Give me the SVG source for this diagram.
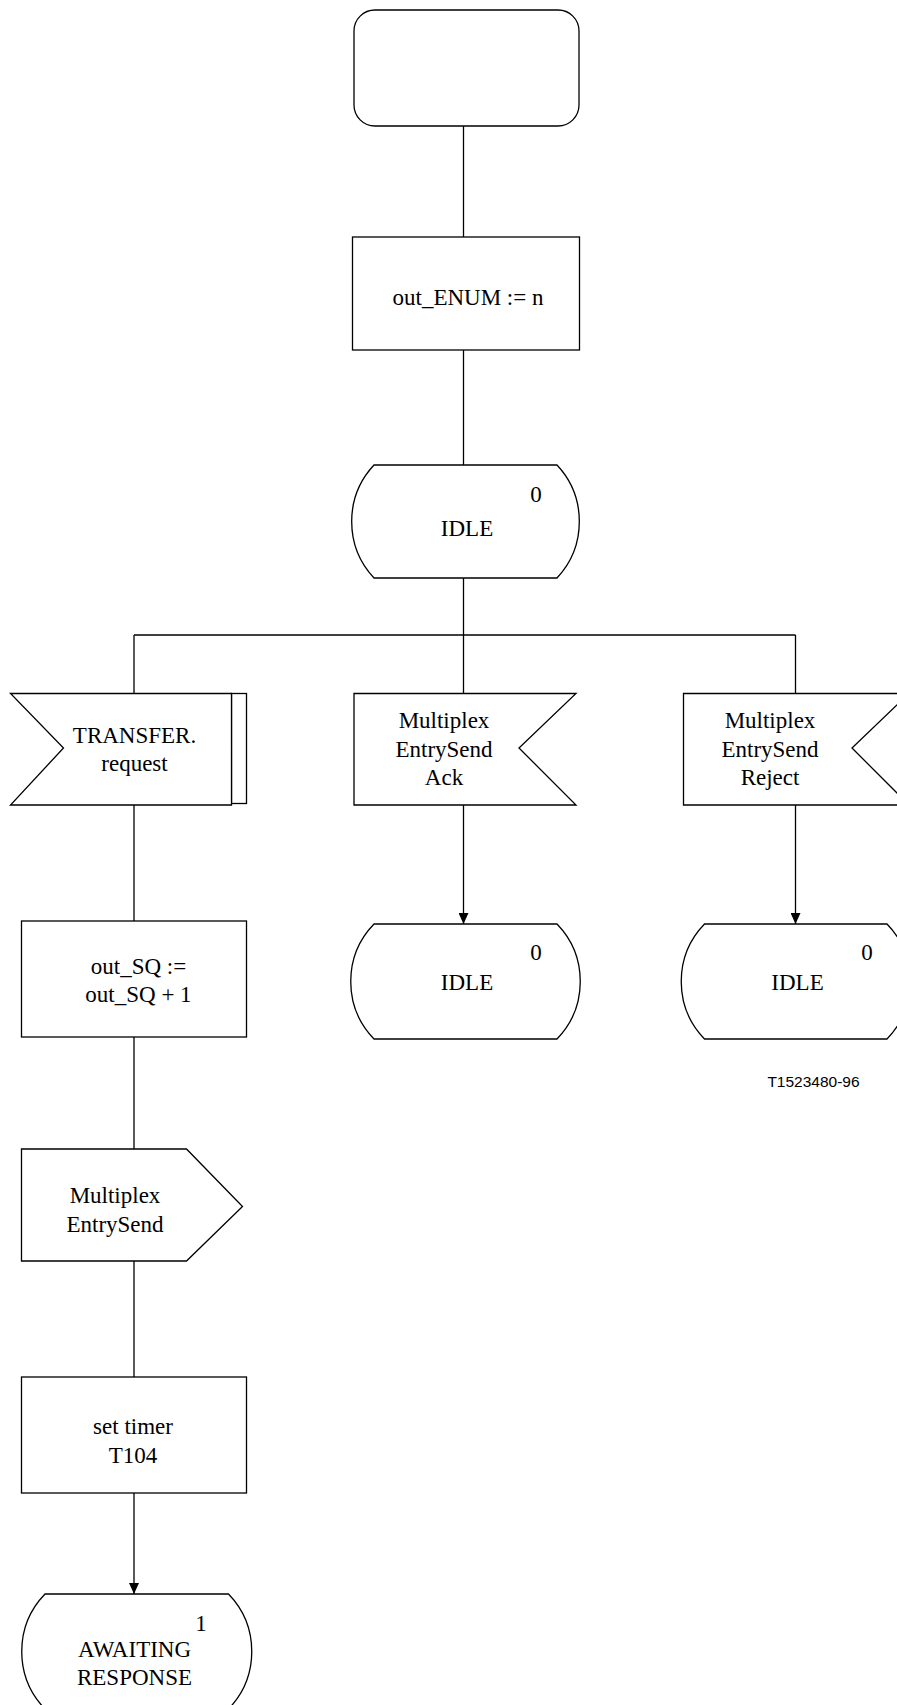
<svg xmlns="http://www.w3.org/2000/svg" width="897" height="1705" viewBox="0 0 897 1705">
  <defs>
    <style>
      .shape { fill: #ffffff; stroke: #000000; stroke-width: 1.3; }
      .line { fill: none; stroke: #000000; stroke-width: 1.3; }
      .flow { fill: none; stroke: #000000; stroke-width: 1.3; marker-end: url(#arrow); }
      .lbl { font-family: "Liberation Serif", "Times New Roman", serif; font-size: 23px; fill: #000000; text-anchor: middle; }
      .ref { font-family: "Liberation Sans", Arial, sans-serif; font-size: 15.5px; fill: #000000; text-anchor: middle; }
    </style>
    <!-- filled arrowhead, tip sits on the line end -->
    <marker id="arrow" markerUnits="userSpaceOnUse" markerWidth="11" markerHeight="10" viewBox="0 0 11 10" refX="11" refY="5" orient="auto">
      <path d="M0,0 L11,5 L0,10 Z" fill="#000000"/>
    </marker>
  </defs>

  <!-- connectors -->
  <g id="connectors">
    <line class="line" x1="463.5" y1="126" x2="463.5" y2="237"/>
    <line class="line" x1="463.5" y1="350" x2="463.5" y2="465"/>
    <line class="line" x1="463.5" y1="578" x2="463.5" y2="693"/>
    <line class="line" x1="134" y1="635" x2="795.5" y2="635"/>
    <line class="line" x1="134" y1="635" x2="134" y2="693"/>
    <line class="line" x1="795.5" y1="635" x2="795.5" y2="693"/>
    <line class="line" x1="134" y1="805" x2="134" y2="921"/>
    <line class="line" x1="134" y1="1037" x2="134" y2="1149"/>
    <line class="line" x1="134" y1="1261" x2="134" y2="1377"/>
    <line class="flow" x1="134" y1="1493" x2="134" y2="1594"/>
    <line class="flow" x1="463.5" y1="805" x2="463.5" y2="924"/>
    <line class="flow" x1="795.5" y1="805" x2="795.5" y2="924"/>
  </g>

  <!-- start symbol -->
  <g id="start">
    <rect class="shape" x="354" y="10" width="225" height="116" rx="21" ry="21"/>
  </g>

  <!-- task: out_ENUM := n -->
  <g id="task-enum">
    <rect class="shape" x="352.5" y="237" width="227" height="113"/>
    <text class="lbl" x="468" y="305">out_ENUM := n</text>
  </g>

  <!-- state IDLE (top) -->
  <g id="state-idle-top">
    <path class="shape" d="M374,465 H557 A82.7,82.7 0 0 1 557,578 H374 A82.7,82.7 0 0 1 374,465 Z"/>
    <text class="lbl" x="536" y="502">0</text>
    <text class="lbl" x="467" y="536">IDLE</text>
  </g>

  <!-- input: TRANSFER.request -->
  <g id="input-transfer">
    <rect class="shape" x="231.5" y="693.5" width="15" height="110"/>
    <path class="shape" d="M10.5,693.5 H231.5 V805 H10.5 L63.5,748 Z"/>
    <text class="lbl" x="134.5" y="743">TRANSFER.</text>
    <text class="lbl" x="134.5" y="771">request</text>
  </g>

  <!-- input: MultiplexEntrySendAck -->
  <g id="input-ack">
    <path class="shape" d="M354,693.5 H576 L519,748 L576,805 H354 Z"/>
    <text class="lbl" x="444" y="728">Multiplex</text>
    <text class="lbl" x="444" y="757">EntrySend</text>
    <text class="lbl" x="444" y="785">Ack</text>
  </g>

  <!-- input: MultiplexEntrySendReject -->
  <g id="input-reject">
    <path class="shape" d="M683.5,693.5 H909 L852,748 L909,805 H683.5 Z"/>
    <text class="lbl" x="770" y="728">Multiplex</text>
    <text class="lbl" x="770" y="757">EntrySend</text>
    <text class="lbl" x="770" y="785">Reject</text>
  </g>

  <!-- task: out_SQ := out_SQ + 1 -->
  <g id="task-sq">
    <rect class="shape" x="21.5" y="921" width="225" height="116"/>
    <text class="lbl" x="138.5" y="974">out_SQ :=</text>
    <text class="lbl" x="138.5" y="1002">out_SQ + 1</text>
  </g>

  <!-- state IDLE (after Ack) -->
  <g id="state-idle-ack">
    <path class="shape" d="M374,924 H557 A82.7,82.7 0 0 1 557,1039 H374 A82.7,82.7 0 0 1 374,924 Z"/>
    <text class="lbl" x="536" y="960">0</text>
    <text class="lbl" x="467" y="990">IDLE</text>
  </g>

  <!-- state IDLE (after Reject) -->
  <g id="state-idle-reject">
    <path class="shape" d="M704.5,924 H887 A82.7,82.7 0 0 1 887,1039 H704.5 A82.7,82.7 0 0 1 704.5,924 Z"/>
    <text class="lbl" x="867" y="960">0</text>
    <text class="lbl" x="797.5" y="990">IDLE</text>
  </g>

  <text class="ref" x="813.5" y="1086.5">T1523480-96</text>

  <!-- output: MultiplexEntrySend -->
  <g id="output-entrysend">
    <path class="shape" d="M21.5,1149 H186.5 L242.5,1206.5 L186.5,1261 H21.5 Z"/>
    <text class="lbl" x="115" y="1203">Multiplex</text>
    <text class="lbl" x="115" y="1232">EntrySend</text>
  </g>

  <!-- task: set timer T104 -->
  <g id="task-timer">
    <rect class="shape" x="21.5" y="1377" width="225" height="116"/>
    <text class="lbl" x="133" y="1434">set timer</text>
    <text class="lbl" x="133" y="1463">T104</text>
  </g>

  <!-- state AWAITING RESPONSE -->
  <g id="state-awaiting">
    <path class="shape" d="M45,1594 H228.5 A82.7,82.7 0 0 1 228.5,1709 H45 A82.7,82.7 0 0 1 45,1594 Z"/>
    <text class="lbl" x="201" y="1631">1</text>
    <text class="lbl" x="134.5" y="1657">AWAITING</text>
    <text class="lbl" x="134.5" y="1685">RESPONSE</text>
  </g>
</svg>
